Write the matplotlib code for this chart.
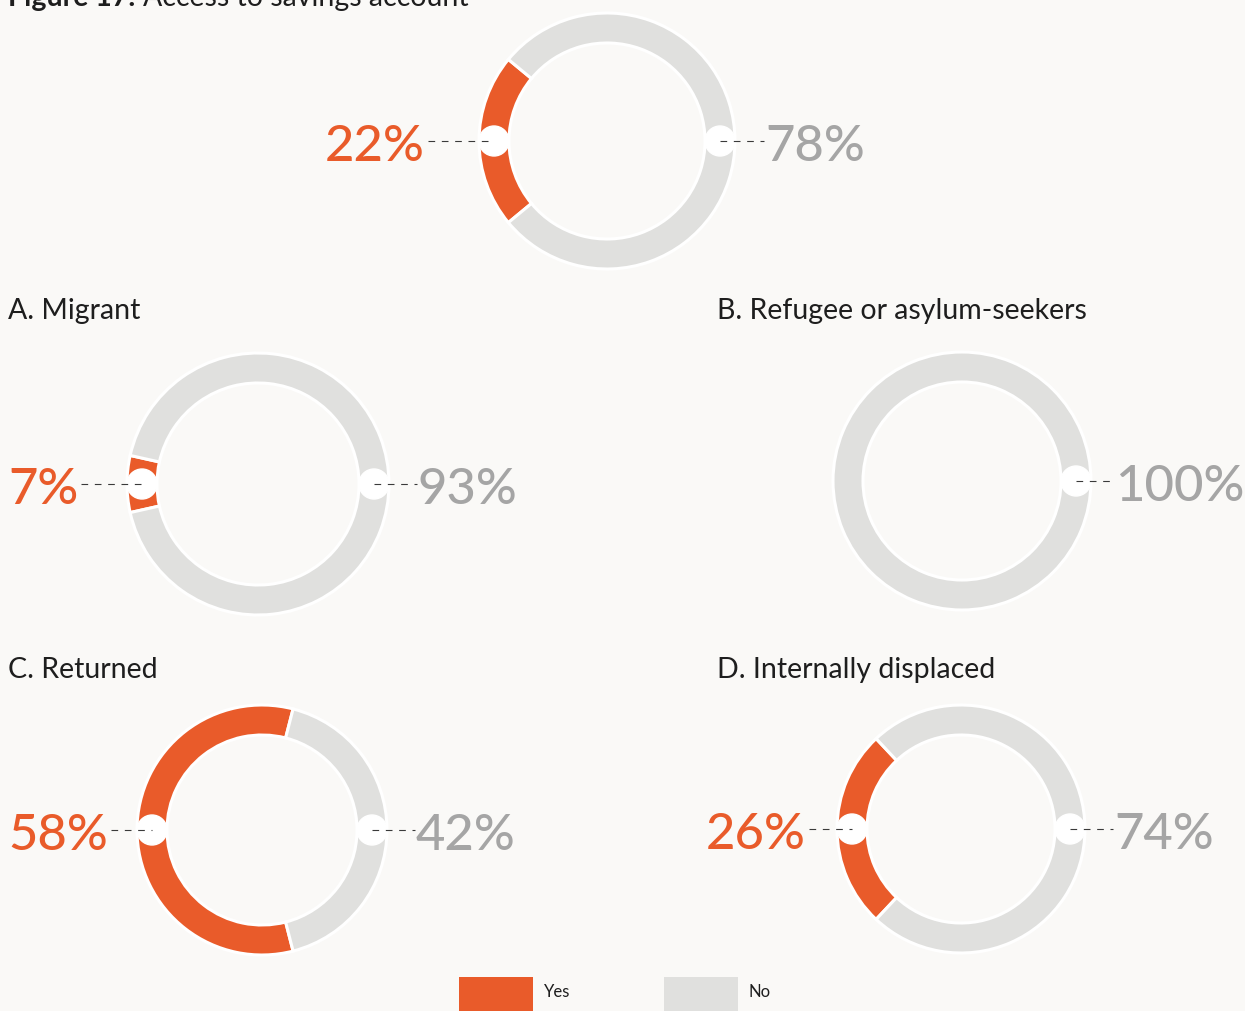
import matplotlib
matplotlib.use("Agg")
import matplotlib.pyplot as plt
from matplotlib.patches import Circle, Rectangle

W, H = 1245, 1011
FONDO = "#faf9f7"
NARANJA = "#e95b2a"
GRIS_ARO = "#e0e0de"
GRIS_TXT = "#a5a5a5"

# datos
titulos = ["", "A. Migrant", "B. Refugee or asylum-seekers",
           "C. Returned", "D. Internally displaced"]
si = [22, 7, 0, 58, 26]
no = [78, 93, 100, 42, 74]

# maquetación (px, origen arriba-izquierda)
centros = [(607, 141), (258, 484), (962, 481), (262, 830), (961, 829)]
radios = [128, 131, 129, 125, 124]
ANCHO = 30
pos_titulo = [None, (8, 311), (717, 311), (8, 670), (717, 670)]
# (x, alineación) de la etiqueta "Yes" y x de la etiqueta "No"
pos_si = [(425, "right"), (8, "left"), None, (8, "left"), (706, "left")]
pos_no = [765, 418, 1115, 416, 1114]

plt.rcParams["font.family"] = ["Lato", "DejaVu Sans"]

fig = plt.figure(figsize=(W / 100, H / 100), dpi=100, facecolor=FONDO)
ax = fig.add_axes([0, 0, 1, 1])
ax.set_facecolor(FONDO)


def Y(y):
    return H - y


for i, (cx, cy) in enumerate(centros):
    r = radios[i]
    valores = [v for v in (si[i], no[i]) if v > 0]
    colores = [c for v, c in zip((si[i], no[i]), (NARANJA, GRIS_ARO)) if v > 0]
    ax.pie(valores, colors=colores, center=(cx, Y(cy)), radius=r,
           startangle=180 - si[i] * 3.6 / 2, counterclock=True,
           wedgeprops=dict(width=ANCHO, edgecolor="white", linewidth=2.2))

# ejes en píxeles: fijar límites antes de medir textos
ax.set_xlim(0, W)
ax.set_ylim(0, H)
ax.set_aspect("auto")
ax.axis("off")

fig.canvas.draw()
ren = fig.canvas.get_renderer()
inv = ax.transData.inverted()


def lineas_guia(ax_, x0, x1, y):
    ax_.plot([x0, x1], [y, y], color="#3a3a3a", lw=0.8,
             linestyle=(0, (6, 6)), zorder=6)


for i, (cx, cy) in enumerate(centros):
    r = radios[i]
    rm = r - ANCHO / 2
    yb = Y(cy + 20)
    # lado derecho: "No"
    ax.add_patch(Circle((cx + rm, Y(cy)), 15, color="white", zorder=5))
    t = ax.text(pos_no[i], yb, f"{no[i]}%", color=GRIS_TXT, fontsize=36.5,
                fontweight="medium", ha="left", va="baseline", zorder=7)
    bb = t.get_window_extent(renderer=ren).transformed(inv)
    lineas_guia(ax, cx + rm, bb.x0 - 1, Y(cy))
    # lado izquierdo: "Yes"
    if si[i] > 0:
        ax.add_patch(Circle((cx - rm, Y(cy)), 15, color="white", zorder=5))
        xs, ha = pos_si[i]
        t = ax.text(xs, yb, f"{si[i]}%", color=NARANJA, fontsize=36.5,
                    fontweight="medium", ha=ha, va="baseline", zorder=7)
        bb = t.get_window_extent(renderer=ren).transformed(inv)
        lineas_guia(ax, bb.x1 + 3, cx - rm, Y(cy))
    if pos_titulo[i]:
        tx, ty = pos_titulo[i]
        ax.text(tx, Y(ty), titulos[i], color="#1e1e1e", fontsize=20.5,
                ha="left", va="center")

# título de la figura (recortado arriba)
t1 = ax.text(8, Y(6), "Figure 17.", fontsize=20.5, fontweight="bold",
             color="#1e1e1e", ha="left", va="baseline")
bb = t1.get_window_extent(renderer=ren).transformed(inv)
ax.text(bb.x1 + 8, Y(6), "Access to savings account", fontsize=20.5,
        color="#1e1e1e", ha="left", va="baseline")

# leyenda
for x, col, lab in [(459, NARANJA, "Yes"), (664, GRIS_ARO, "No")]:
    ax.add_patch(Rectangle((x, Y(1011)), 74, 34, color=col, lw=0))
    ax.text(x + 85, Y(992), lab, fontsize=12, color="#1e1e1e",
            ha="left", va="center")

fig.savefig("out.png", dpi=100, facecolor=FONDO)
